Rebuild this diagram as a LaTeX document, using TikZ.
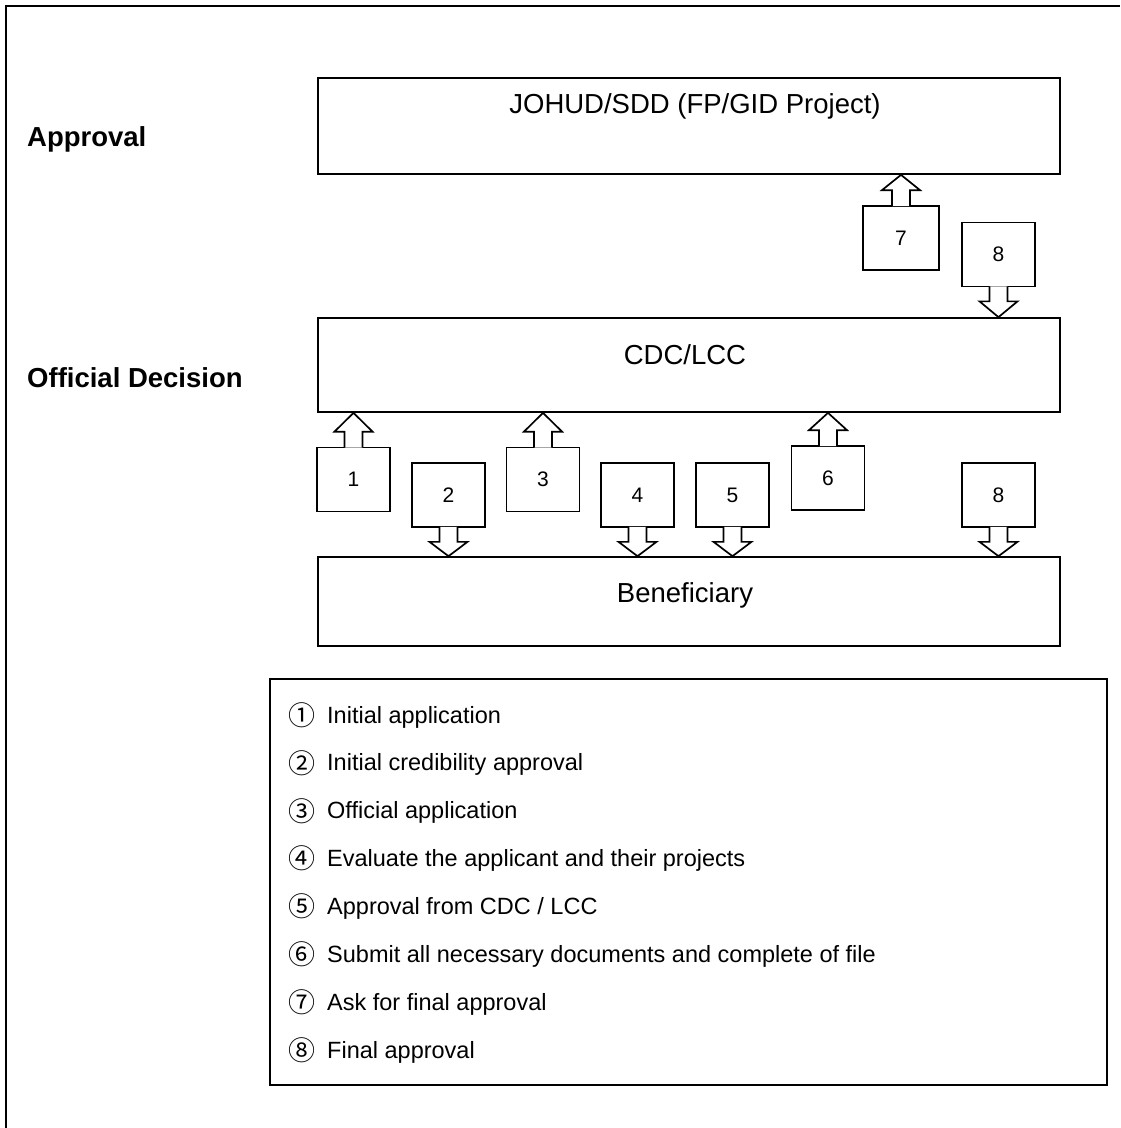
\documentclass[tikz,border=0pt]{standalone}
\usepackage{fontspec}
\setmainfont{Liberation Sans}
\newfontfamily\circfont{Noto Sans CJK JP}
\usetikzlibrary{calc}
\newcommand{\arrowup}[2]{%
  \filldraw[blockarrow] ([xshift=-9pt,yshift=-1pt]#1.north) -- ([xshift=-9pt,yshift=15pt]#1.north)
    -- ([xshift=-19pt,yshift=15pt]#1.north) -- (#1.north |- #2.south)
    -- ([xshift=19pt,yshift=15pt]#1.north) -- ([xshift=9pt,yshift=15pt]#1.north)
    -- ([xshift=9pt,yshift=-1pt]#1.north);}
\newcommand{\arrowdown}[2]{%
  \filldraw[blockarrow] ([xshift=-9pt,yshift=1pt]#1.south) -- ([xshift=-9pt,yshift=-14pt]#1.south)
    -- ([xshift=-19pt,yshift=-14pt]#1.south) -- (#1.south |- #2.north)
    -- ([xshift=19pt,yshift=-14pt]#1.south) -- ([xshift=9pt,yshift=-14pt]#1.south)
    -- ([xshift=9pt,yshift=1pt]#1.south);}
\begin{document}
\begin{tikzpicture}[x=1pt,y=-1pt,
  bigbox/.style={draw, line width=1.7pt, rectangle, minimum width=742pt, inner sep=0pt},
  numbox/.style={draw, fill=white, line width=1.7pt, rectangle, minimum width=73pt, minimum height=64pt, inner sep=0pt, font=\fontsize{21}{25}\selectfont},
  boxtext/.style={font=\fontsize{27.5}{33}\selectfont, inner sep=0pt},
  sidelabel/.style={font=\fontsize{27.5}{33}\selectfont\bfseries, anchor=west, inner sep=0pt},
  legendtext/.style={font=\fontsize{23.5}{28}\selectfont, anchor=base west, inner sep=0pt},
  circnum/.style={font=\circfont\fontsize{27}{30}\selectfont, inner sep=0pt},
  blockarrow/.style={draw, fill=white, line width=1.7pt, line join=miter}]
\useasboundingbox (0,0) rectangle (1120,1128);
\draw[line width=1.5pt] (6,1128) -- (6,6) -- (1120,6);

% side labels
\node[sidelabel] (lapp) at (27,139) {Approval};
\node[sidelabel] (ldec) at (27,378) {Official Decision};

% main boxes
\node[bigbox, minimum height=96pt] (johud) at (689,126) {};
\node[bigbox, minimum height=94pt] (cdc) at (689,365) {};
\node[bigbox, minimum height=89pt] (ben) at (689,601.5) {};
\node[boxtext] (johudt) at (695,106) {JOHUD/SDD (FP/GID Project)};
\node[boxtext] (cdct) at (685,355) {CDC/LCC};
\node[boxtext] (bent) at (685,595) {Beneficiary};

% numbered boxes
\node[numbox] (b1) at (353.5,479.5) {1};
\node[numbox] (b2) at (448.5,495) {2};
\node[numbox] (b3) at (543,479.5) {3};
\node[numbox] (b4) at (637.5,495) {4};
\node[numbox] (b5) at (732.5,495) {5};
\node[numbox] (b6) at (828,478) {6};
\node[numbox, minimum width=76pt] (b7) at (901,238) {7};
\node[numbox] (b8a) at (998.5,254.5) {8};
\node[numbox] (b8b) at (998.5,495) {8};

% block arrows
\arrowup{b1}{cdc}
\arrowdown{b2}{ben}
\arrowup{b3}{cdc}
\arrowdown{b4}{ben}
\arrowdown{b5}{ben}
\arrowup{b6}{cdc}
\arrowup{b7}{johud}
\arrowdown{b8a}{cdc}
\arrowdown{b8b}{ben}

% legend
\node[draw, line width=1.7pt, minimum width=837pt, minimum height=406pt, inner sep=0pt] (legend) at (688.5,882) {};
\node[circnum] (c1) at (302,715) {①};
\node[legendtext] (t1) at (327,723) {Initial application};
\node[circnum] (c2) at (302,762.9) {②};
\node[legendtext] (t2) at (327,770.9) {Initial credibility approval};
\node[circnum] (c3) at (302,810.8) {③};
\node[legendtext] (t3) at (327,818.8) {Official application};
\node[circnum] (c4) at (302,858.7) {④};
\node[legendtext] (t4) at (327,866.7) {Evaluate the applicant and their projects};
\node[circnum] (c5) at (302,906.6) {⑤};
\node[legendtext] (t5) at (327,914.6) {Approval from CDC / LCC};
\node[circnum] (c6) at (302,954.5) {⑥};
\node[legendtext] (t6) at (327,962.5) {Submit all necessary documents and complete of file};
\node[circnum] (c7) at (302,1002.4) {⑦};
\node[legendtext] (t7) at (327,1010.4) {Ask for final approval};
\node[circnum] (c8) at (302,1050.3) {⑧};
\node[legendtext] (t8) at (327,1058.3) {Final approval};
\end{tikzpicture}
\end{document}
